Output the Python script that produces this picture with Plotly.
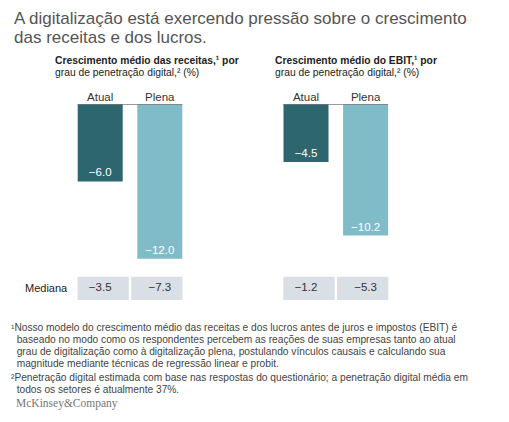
import plotly.graph_objects as go

categories = ["Atual", "Plena"]
receitas = [-6.0, -12.0]
ebit = [-4.5, -10.2]
mediana_receitas = [-3.5, -7.3]
mediana_ebit = [-1.2, -5.3]

title_lines = ["A digitalização está exercendo pressão sobre o crescimento",
               "das receitas e dos lucros."]
sub_left = ["<b>Crescimento médio das receitas,¹ por</b>", "grau de penetração digital,² (%)"]
sub_right = ["<b>Crescimento médio do EBIT,¹ por</b>", "grau de penetração digital,² (%)"]
footnotes = [
    "¹Nosso modelo do crescimento médio das receitas e dos lucros antes de juros e impostos (EBIT) é",
    "  baseado no modo como os respondentes percebem as reações de suas empresas tanto ao atual",
    "  grau de digitalização como à digitalização plena, postulando vínculos causais e calculando sua",
    "  magnitude mediante técnicas de regressão linear e probit.",
    "²Penetração digital estimada com base nas respostas do questionário; a penetração digital média em",
    "  todos os setores é atualmente 37%.",
]

DARK = "#2e6670"
LIGHT = "#7fbcc8"
BOX = "#d9dfe4"
FONT = "Liberation Sans, Arial, sans-serif"

OFF = 8  # default page body margin
W, H = 509 - 2 * OFF, 422 - 2 * OFF
MT = 104 - OFF
MB = H - (301.6 - OFF)
PH = H - MT - MB
x_pos = [0, 1]
bar_w = 0.755
med_x = [0.05, 0.95]
med_w = 0.86
med_base = -15.2
med_h = 1.8


def px(p):
    return (p - OFF) / W


def py(p):
    return (H - MB - (p - OFF)) / PH


def fmt(v):
    return f"{v:.1f}".replace("-", "−")


fig = go.Figure()
for vals, meds, xa in [(receitas, mediana_receitas, "x"), (ebit, mediana_ebit, "x2")]:
    fig.add_trace(go.Bar(
        x=med_x, y=[med_h, med_h], base=[med_base, med_base], width=med_w,
        marker=dict(color=BOX, line=dict(width=0)), xaxis=xa, yaxis="y",
        showlegend=False, hoverinfo="skip"))
    fig.add_trace(go.Scatter(
        x=x_pos, y=[med_base + med_h / 2] * 2, mode="text", text=[fmt(v) for v in meds],
        textposition="middle center", textfont=dict(color="#333333", size=11.5, family=FONT),
        xaxis=xa, yaxis="y", showlegend=False, hoverinfo="skip"))
    fig.add_trace(go.Bar(
        x=x_pos, y=vals, width=bar_w, marker=dict(color=[DARK, LIGHT], line=dict(width=0)),
        text=[fmt(v) for v in vals], textposition="inside", insidetextanchor="end",
        textfont=dict(color="white", size=11.5, family=FONT), xaxis=xa, yaxis="y",
        showlegend=False, hoverinfo="skip"))
    fig.add_shape(type="line", xref=xa, yref="y", x0=-bar_w / 2, x1=1 + bar_w / 2, y0=0, y1=0,
                  line=dict(color="#7a7a7a", width=1.5))

axis_common = dict(range=[-1, 2], showgrid=False, zeroline=False, showline=False,
                   tickvals=x_pos, ticktext=categories, side="top", ticks="",
                   tickfont=dict(size=11.5, color="#333333", family=FONT), fixedrange=True)
fig.update_layout(
    width=W, height=H, margin=dict(l=0, r=0, t=MT, b=MB),
    paper_bgcolor="white", plot_bgcolor="white", barmode="overlay",
    font=dict(family=FONT, color="#333333"),
    xaxis=dict(domain=[px(40.6), px(219.4)], anchor="y", **axis_common),
    xaxis2=dict(domain=[px(246.4), px(425.2)], anchor="y", **axis_common),
    yaxis=dict(range=[-15.35, 0], visible=False, fixedrange=True),
)

ann = []
for i, t in enumerate(title_lines):
    ann.append(dict(text=t, x=px(12), y=py(18.3 + i * 19.4), xref="paper", yref="paper",
                    xanchor="left", yanchor="middle", showarrow=False,
                    font=dict(size=17, color="#555555", family=FONT)))
for sub, x0 in [(sub_left, 53), (sub_right, 273)]:
    for i, t in enumerate(sub):
        ann.append(dict(text=t, x=px(x0), y=py(61 + i * 12), xref="paper", yref="paper",
                        xanchor="left", yanchor="middle", showarrow=False,
                        font=dict(size=10.3, color="#222222", family=FONT)))
ann.append(dict(text="Mediana", xref="x", yref="y", x=-bar_w / 2, y=med_base + med_h / 2,
                xanchor="right", xshift=-8, yanchor="middle", showarrow=False,
                font=dict(size=11, color="#222222", family=FONT)))
for i, t in enumerate(footnotes):
    yy = 327 + i * 12 + (2 if i >= 4 else 0)
    ann.append(dict(text=t.replace("  ", "&nbsp;&nbsp;"), x=px(9), y=py(yy), xref="paper", yref="paper",
                    xanchor="left", yanchor="middle", showarrow=False,
                    font=dict(size=10.2, color="#444444", family=FONT)))
ann.append(dict(text="McKinsey&amp;Company", x=px(14), y=py(403), xref="paper", yref="paper",
                xanchor="left", yanchor="middle", showarrow=False,
                font=dict(size=11.5, color="#777777", family="Liberation Serif, Times New Roman, serif")))
fig.update_layout(annotations=ann)

fig.write_html("out.html", config={"displayModeBar": False})
